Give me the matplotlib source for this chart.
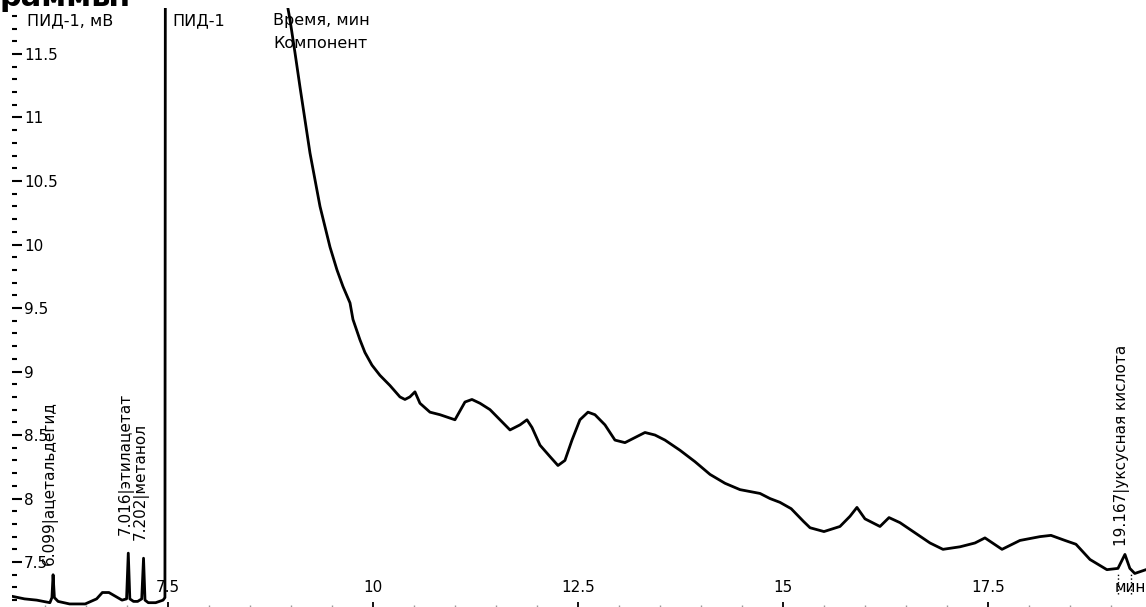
import matplotlib.pyplot as plt
from matplotlib.ticker import MultipleLocator, FuncFormatter
from matplotlib.transforms import offset_copy

plt.rcParams['font.family'] = ['DejaVu Sans']

# хроматограмма ПИД-1, время (мин) и сигнал (мВ)
time = [5.60, 5.75, 5.90, 6.06, 6.085, 6.099, 6.115, 6.16, 6.30, 6.49,
        6.63, 6.70, 6.78, 6.86, 6.94, 6.995, 7.016, 7.035, 7.08, 7.13,
        7.18, 7.202, 7.22, 7.26, 7.35, 7.44, 7.463, 7.47, 8.90,
        8.963, 8.988, 9.049, 9.110, 9.171, 9.232, 9.293, 9.354, 9.415, 9.476,
        9.561, 9.634, 9.720, 9.756, 9.841, 9.902, 9.988, 10.085, 10.207, 10.329,
        10.39, 10.45, 10.512, 10.573, 10.695, 10.817, 11.0, 11.122, 11.207, 11.305,
        11.427, 11.549, 11.671, 11.793, 11.878, 11.939, 12.037, 12.159, 12.256, 12.341,
        12.427, 12.524, 12.622, 12.707, 12.829, 12.951, 13.073, 13.195, 13.317, 13.439,
        13.561, 13.744, 13.927, 14.110, 14.293, 14.476, 14.72, 14.841, 14.963, 15.10,
        15.25, 15.33, 15.5, 15.695, 15.817, 15.902, 16.0, 16.183, 16.293, 16.427,
        16.61, 16.793, 16.951, 17.159, 17.341, 17.463, 17.671, 17.89, 18.134, 18.268,
        18.439, 18.573, 18.744, 18.95, 19.085, 19.17, 19.23, 19.29, 19.427]
signal = [7.23, 7.21, 7.20, 7.18, 7.22, 7.40, 7.22, 7.19, 7.17, 7.17,
          7.21, 7.26, 7.26, 7.23, 7.20, 7.21, 7.57, 7.21, 7.19, 7.19,
          7.21, 7.53, 7.20, 7.18, 7.18, 7.20, 7.22, 14.0, 14.0,
          11.86, 11.77, 11.51, 11.24, 10.98, 10.72, 10.51, 10.30, 10.14, 9.98,
          9.80, 9.67, 9.54, 9.41, 9.25, 9.15, 9.05, 8.97, 8.89, 8.80,
          8.78, 8.80, 8.84, 8.75, 8.68, 8.66, 8.62, 8.76, 8.78, 8.75,
          8.70, 8.62, 8.54, 8.58, 8.62, 8.56, 8.42, 8.33, 8.26, 8.30,
          8.46, 8.62, 8.68, 8.66, 8.58, 8.46, 8.44, 8.48, 8.52, 8.50,
          8.46, 8.38, 8.29, 8.19, 8.12, 8.07, 8.04, 8.00, 7.97, 7.92,
          7.82, 7.77, 7.74, 7.78, 7.86, 7.93, 7.84, 7.78, 7.85, 7.81,
          7.73, 7.65, 7.60, 7.62, 7.65, 7.69, 7.60, 7.67, 7.70, 7.71,
          7.67, 7.64, 7.52, 7.44, 7.45, 7.56, 7.45, 7.41, 7.44]

peak_times = [6.099, 7.016, 7.202, 19.167]
peak_names = ['ацетальдегид', 'этилацетат', 'метанол', 'уксусная кислота']
peak_label_y = [7.48, 7.71, 7.67, 7.63]
peak_borders = [19.08, 19.24]

fig = plt.figure(figsize=(11.46, 6.07), dpi=100)
ax = fig.add_axes([12 / 1146, 0, 1134 / 1146, 599 / 607])
ax.plot(time, signal, color='black', lw=2.0)
ax.vlines(peak_borders, 7.25, 7.42, colors='black', linestyles=':', lw=1)

ax.set_xlim(5.598, 19.427)
ax.set_ylim(7.146, 11.862)
for s in ax.spines.values():
    s.set_visible(False)

fmt = FuncFormatter(lambda v, p: f'{v:g}')
ax.xaxis.set_major_locator(MultipleLocator(2.5))
ax.xaxis.set_minor_locator(MultipleLocator(0.5))
ax.yaxis.set_major_locator(MultipleLocator(0.5))
ax.yaxis.set_minor_locator(MultipleLocator(0.1))
ax.xaxis.set_major_formatter(fmt)
ax.yaxis.set_major_formatter(fmt)

ax.tick_params(axis='y', which='major', direction='in', length=7.5, width=1.5, pad=-8.6, labelsize=11)
ax.tick_params(axis='y', which='minor', direction='in', length=3.8, width=1.5)
ax.tick_params(axis='x', which='major', direction='in', length=3.6, width=1.3, pad=-8.6, labelsize=11)
ax.tick_params(axis='x', which='minor', direction='in', length=1.5, width=1, color='#999999')
plt.setp(ax.get_yticklabels(), ha='left')
plt.setp(ax.get_xticklabels(), va='bottom')

shift = offset_copy(ax.transData, fig=fig, x=-3, y=0, units='dots')
for t, name, y in zip(peak_times, peak_names, peak_label_y):
    ax.text(t, y, f'{t:.3f}|{name}', rotation=90, ha='center', va='bottom',
            fontsize=11, transform=shift)

ax.text(1.0, 12 / 599, 'мин', transform=ax.transAxes, ha='right', va='bottom', fontsize=11)

fig.text(27 / 1146, 1 - 21 / 607, 'ПИД-1, мВ', va='center', fontsize=11.5)
fig.text(172 / 1146, 1 - 21 / 607, 'ПИД-1', va='center', fontsize=11.5)
fig.text(273 / 1146, 1 - 21 / 607, 'Время, мин', va='center', fontsize=11.5)
fig.text(273 / 1146, 1 - 44 / 607, 'Компонент', va='center', fontsize=11.5)
fig.text(0.0, 1 - 6 / 607, 'раммы:', va='baseline', ha='left', fontsize=22, fontweight='bold')

plt.savefig('out.png', dpi=100)
